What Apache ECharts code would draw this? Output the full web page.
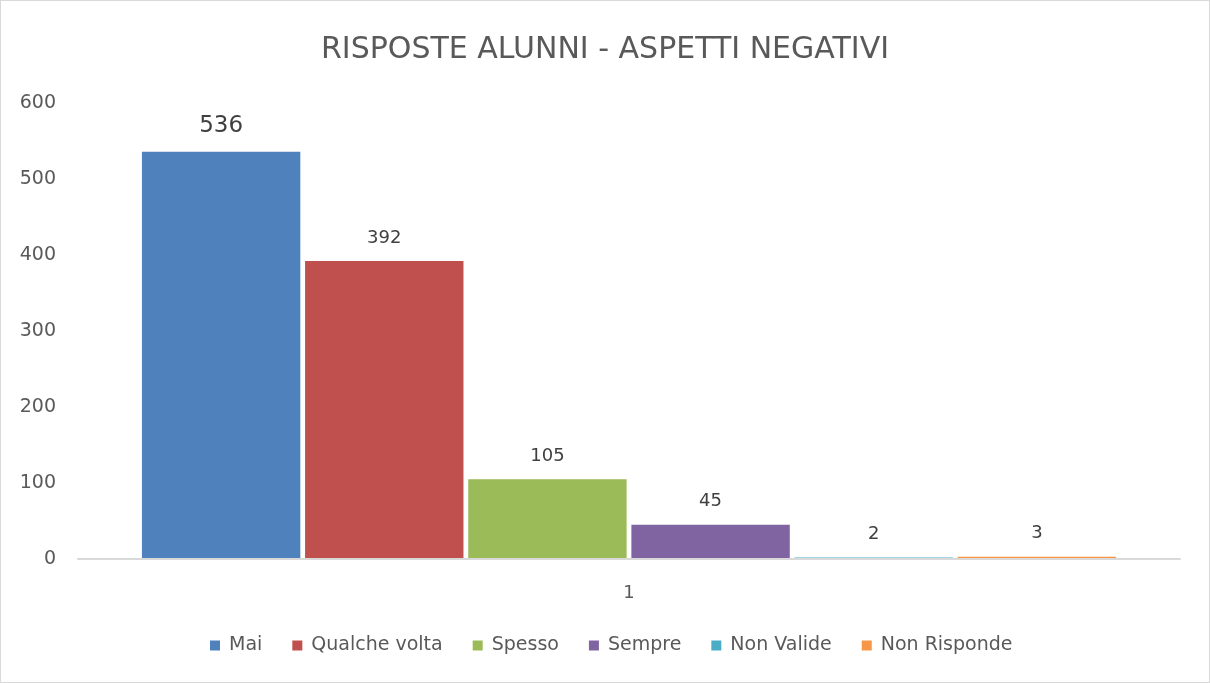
<!DOCTYPE html>
<html>
<head>
<meta charset="utf-8">
<script src="https://cdn.jsdelivr.net/npm/echarts@6/dist/echarts.min.js"></script>
<style>
  html, body { margin: 0; padding: 0; background: #fff; }
  #chart { width: 1210px; height: 683px; box-sizing: border-box; border: 1px solid #d9d9d9; }
</style>
</head>
<body>
<div id="chart"></div>
<script>
// Survey answers: one category, one bar per answer
const categories = ['1'];
const seriesNames = ['Mai', 'Qualche volta', 'Spesso', 'Sempre', 'Non Valide', 'Non Risponde'];
const seriesValues = [536, 392, 105, 45, 2, 3];
const seriesColors = ['#4F81BD', '#C0504D', '#9BBB59', '#8064A2', '#4BACC6', '#F79646'];
const yTicks = { min: 0, max: 600, interval: 100 };

const FONT = '"DejaVu Sans", "Liberation Sans", sans-serif';
const chart = echarts.init(document.getElementById('chart'), null, { renderer: 'canvas' });

const series = seriesNames.map((name, i) => ({
  name: name,
  type: 'bar',
  z: 2,
  data: [seriesValues[i]],
  barGap: '3%',
  barCategoryGap: '11.6%',
  itemStyle: { color: seriesColors[i] },
  label: {
    show: true,
    position: 'top',
    distance: i === 0 ? 14 : 14,
    color: '#404040',
    fontFamily: FONT,
    fontSize: i === 0 ? 23 : 18
  }
}));

chart.setOption({
  animation: false,
  title: {
    text: 'RISPOSTE ALUNNI - ASPETTI NEGATIVI',
    left: 'center',
    top: 29,
    textStyle: { fontFamily: FONT, fontSize: 30, fontWeight: 'normal', color: '#595959' }
  },
  legend: {
    data: seriesNames,
    bottom: 22,
    left: 204,
    icon: 'rect',
    itemWidth: 10,
    itemHeight: 10,
    itemGap: 30,
    textStyle: { fontFamily: FONT, fontSize: 19, color: '#595959', padding: [0, 0, 0, 4] }
  },
  grid: { left: 77, right: 29, top: 102, bottom: 123 },
  xAxis: {
    type: 'category',
    data: categories,
    z: 3,
    axisLine: { lineStyle: { color: '#d9d9d9', width: 2 } },
    axisTick: { show: false },
    axisLabel: { fontFamily: FONT, fontSize: 18, color: '#595959', margin: 25 }
  },
  yAxis: {
    type: 'value',
    min: yTicks.min,
    max: yTicks.max,
    interval: yTicks.interval,
    axisLine: { show: false },
    axisTick: { show: false },
    splitLine: { show: false },
    axisLabel: { fontFamily: FONT, fontSize: 19, color: '#595959', margin: 22, align: 'right' }
  },
  series: series
});
</script>
</body>
</html>
